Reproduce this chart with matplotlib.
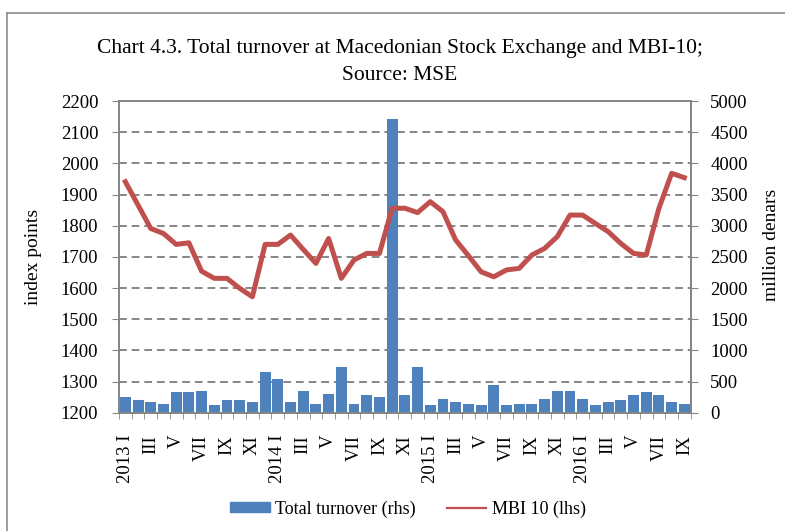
import numpy as np
import matplotlib
matplotlib.use("Agg")
import matplotlib.pyplot as plt
from matplotlib.lines import Line2D
from matplotlib.patches import Patch

plt.rcParams['font.family'] = ['Liberation Serif', 'DejaVu Serif']

# MBI-10 index (lhs), monthly 2013 I - 2016 IX
mbi10 = [1941, 1866, 1791, 1775, 1740, 1745, 1654, 1631, 1631, 1599, 1572, 1740,
         1740, 1770, 1724, 1679, 1759, 1631, 1690, 1711, 1711, 1856, 1856, 1842,
         1877, 1845, 1754, 1704, 1652, 1636, 1658, 1663, 1706, 1727, 1765, 1834,
         1834, 1807, 1781, 1743, 1711, 1706, 1856, 1968, 1954]

# Total turnover, million denars (rhs)
turnover = [257, 203, 171, 139, 332, 332, 348, 123, 203, 203, 171, 652,
            540, 171, 348, 139, 300, 733, 139, 283, 251, 4711, 283, 733,
            123, 219, 171, 139, 123, 444, 123, 139, 139, 219, 348, 348,
            219, 123, 171, 203, 283, 332, 283, 171, 139]

tick_labels = ["2013 I", "III", "V", "VII", "IX", "XI",
               "2014 I", "III", "V", "VII", "IX", "XI",
               "2015 I", "III", "V", "VII", "IX", "XI",
               "2016 I", "III", "V", "VII", "IX"]

W, H = 785, 531
gray = "#868686"
fig = plt.figure(figsize=(W / 100, H / 100), dpi=100)

# plot area in pixels: x 119..690.7, y 101..412.7
ax = fig.add_axes([119 / W, 1 - 412.7 / H, (690.7 - 119) / W, 311.7 / H])
ax2 = ax.twinx()
ax.set_zorder(2)
ax2.set_zorder(1)
ax.patch.set_visible(False)

x = np.arange(len(mbi10)) + 0.5

# bars on the right axis, grid behind them
ax2.bar(x, turnover, width=0.86, color="#4F81BD", zorder=2)
ax2.set_ylim(0, 5000)
ax2.set_yticks(range(0, 5001, 500))
ax2.yaxis.grid(True, color=gray, linestyle=(0, (4, 2.5)), linewidth=1.4)
ax2.set_axisbelow(True)

# line on the left axis
ax.plot(x, mbi10, color="#C0504D", lw=3.6)
ax.set_ylim(1200, 2200)
ax.set_yticks(range(1200, 2201, 100))
ax.set_xlim(0, len(mbi10))

# x ticks: marks at month boundaries, labels at every other month
ax.set_xticks(x[::2])
ax.set_xticklabels(tick_labels, rotation=90)
ax.set_xticks(np.arange(0, len(mbi10) + 1), minor=True)
ax.tick_params(axis="x", which="major", length=0, pad=16, labelsize=13.5)
ax.tick_params(axis="x", which="minor", length=4.5, color=gray, direction="out")

ax.tick_params(axis="y", length=5, color=gray, pad=10, labelsize=13.5)
ax2.tick_params(axis="y", length=5, color=gray, pad=9, labelsize=13.5)

for a in (ax, ax2):
    for s in a.spines.values():
        s.set_color(gray)
        s.set_linewidth(1.4)

fig.text(34 / W, 1 - 257 / H, "index points", rotation=90, ha="center", va="center", fontsize=14)
fig.text(771 / W, 1 - 245 / H, "million denars", rotation=90, ha="center", va="center", fontsize=14)

fig.text(400 / W, 1 - 53 / H,
         "Chart 4.3. Total turnover at Macedonian Stock Exchange and MBI-10;",
         ha="center", va="baseline", fontsize=15.5)
fig.text(400 / W, 1 - 80 / H, "Source: MSE", ha="center", va="baseline", fontsize=15.5)

handles = [Patch(color="#4F81BD", label="Total turnover (rhs)"),
           Line2D([], [], color="#C0504D", lw=1.6, label="MBI 10 (lhs)")]
fig.legend(handles=handles, loc="center", bbox_to_anchor=(408 / W, 1 - 509 / H),
           ncol=2, frameon=False, fontsize=13, handlelength=2.2, handleheight=0.5,
           handletextpad=0.3, columnspacing=1.7)

# outer chart border
fig.add_artist(Line2D([7 / W, 7 / W], [0, 1 - 13 / H], color="#8c8c8c", lw=1.2))
fig.add_artist(Line2D([7 / W, 1], [1 - 13 / H, 1 - 13 / H], color="#8c8c8c", lw=1.2))

fig.savefig("out.png", dpi=100)
